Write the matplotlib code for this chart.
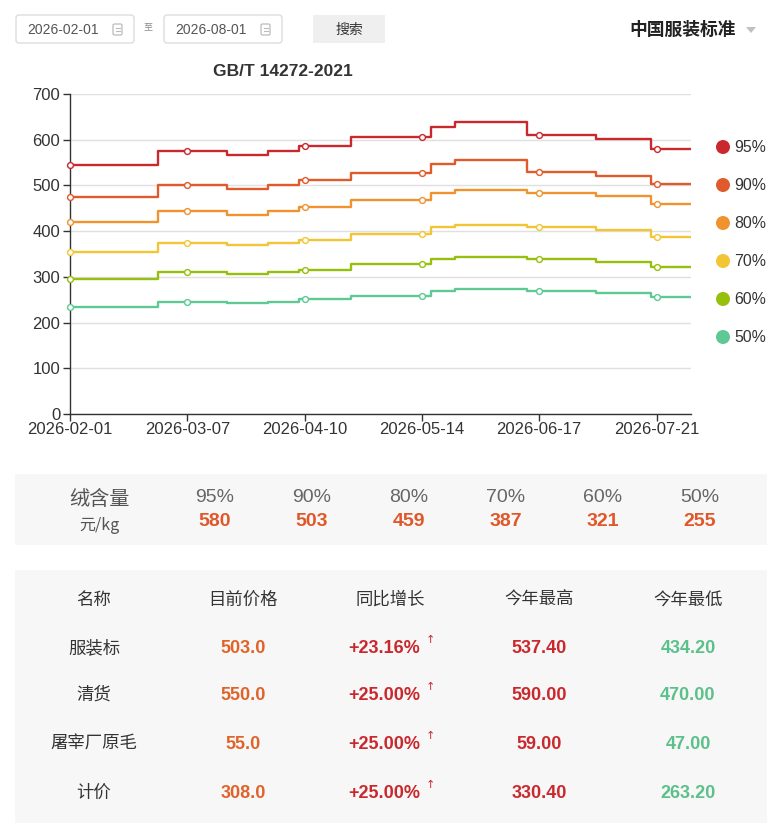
import numpy as np
import matplotlib.pyplot as plt
from matplotlib.patches import FancyBboxPatch, Rectangle, Circle, Polygon

plt.rcParams['font.family'] = ['Liberation Sans', 'Noto Sans CJK SC', 'DejaVu Sans']
CJK = ['Noto Sans CJK SC', 'Liberation Sans']

# 数据
start_date = '2026-02-01'
end_date = '2026-07-31'
change_dates = ['2026-02-01', '2026-02-27', '2026-03-19', '2026-03-31', '2026-04-09',
                '2026-04-24', '2026-05-17', '2026-05-24', '2026-06-14', '2026-07-04',
                '2026-07-20']
grades = ['95%', '90%', '80%', '70%', '60%', '50%']
levels_95 = [545, 576, 566, 576, 587, 607, 628, 638, 611, 601, 580]
levels_90 = [475, 502, 493, 502, 512, 528, 547, 555, 529, 520, 503]
levels_80 = [420, 443, 436, 443, 452, 468, 483, 491, 483, 476, 459]
levels_70 = [355, 374, 369, 374, 381, 394, 408, 414, 408, 402, 387]
levels_60 = [295, 311, 306, 311, 316, 328, 338, 344, 338, 333, 321]
levels_50 = [234, 246, 242, 246, 252, 259, 268, 273, 268, 264, 255]
colors = ['#c9282d', '#e05a2b', '#f0922e', '#f2c534', '#97bf0d', '#5ec994']

current_prices = ['580', '503', '459', '387', '321', '255']

col_names = ['名称', '目前价格', '同比增长', '今年最高', '今年最低']
row_names = ['服装标', '清货', '屠宰厂原毛', '计价']
prices = ['503.0', '550.0', '55.0', '308.0']
growth = ['+23.16%', '+25.00%', '+25.00%', '+25.00%']
year_high = ['537.40', '590.00', '59.00', '330.40']
year_low = ['434.20', '470.00', '47.00', '263.20']

W, H = 783, 830
fig = plt.figure(figsize=(W / 100, H / 100), dpi=100)
fig.patch.set_facecolor('white')

# 背景层，像素坐标
bg = fig.add_axes([0, 0, 1, 1], zorder=-1)
bg.set_xlim(0, W)
bg.set_ylim(H, 0)
bg.axis('off')

# 顶部日期框
for x0, txt in [(16, '2026-02-01'), (164, '2026-08-01')]:
    bg.add_patch(FancyBboxPatch((x0, 15), 118, 28, boxstyle='round,pad=0,rounding_size=3',
                                fc='white', ec='#dddddd', lw=1))
    bg.text(x0 + 11, 29.5, txt, fontsize=10, color='#555555', va='center', ha='left')
    ix = x0 + 97
    bg.add_patch(FancyBboxPatch((ix, 24), 9, 11, boxstyle='round,pad=0,rounding_size=1.5',
                                fc='none', ec='#bbbbbb', lw=0.9))
    bg.plot([ix + 2.5, ix + 6.5], [28.5, 28.5], color='#bbbbbb', lw=0.8)
    bg.plot([ix + 2.5, ix + 6.5], [31.5, 31.5], color='#bbbbbb', lw=0.8)
bg.text(148, 27, '至', fontsize=6.5, color='#888888', ha='center', va='center', family=CJK)
bg.add_patch(Rectangle((313, 15), 72, 28, fc='#efefef', ec='none'))
bg.text(349, 29.5, '搜索', fontsize=10, color='#333333', ha='center', va='center', family=CJK)
bg.text(736, 30, '中国服装标准', fontsize=12.8, color='#222222', ha='right', va='center',
        weight='bold', family=CJK)
bg.add_patch(Polygon([[746, 27], [756, 27], [751, 33]], closed=True, fc='#c0c0c0', ec='none'))

# 标题
bg.text(283, 72, 'GB/T 14272-2021', fontsize=12.5, weight='bold', color='#333333',
        ha='center', va='center')

# 折线图
ax = fig.add_axes([70 / W, 1 - 414 / H, 621 / W, 320 / H])
ax.set_facecolor('none')
days = np.arange(np.datetime64(start_date), np.datetime64(end_date) + 1)
cd = np.array(change_dates, dtype='datetime64[D]')
idx = np.searchsorted(cd, days, side='right') - 1
all_levels = [levels_95, levels_90, levels_80, levels_70, levels_60, levels_50]
for lv, c in zip(all_levels, colors):
    vals = np.array(lv)[idx]
    ax.plot(days, vals, drawstyle='steps-mid', color=c, lw=1.7, zorder=2)
    ax.plot(days[::34], vals[::34], 'o', ms=4.2, mfc='white', mec=c, mew=1.0,
            zorder=3, clip_on=False)

ax.set_xlim(days[0], days[-1])
ax.set_ylim(0, 700)
ax.set_yticks(np.arange(0, 701, 100))
tick_days = days[::34]
ax.set_xticks(tick_days)
ax.set_xticklabels([str(d) for d in tick_days])
ax.grid(axis='y', color='#e0e0e0', lw=1)
ax.set_axisbelow(True)
for s in ['top', 'right']:
    ax.spines[s].set_visible(False)
for s in ['left', 'bottom']:
    ax.spines[s].set_color('#333333')
    ax.spines[s].set_linewidth(1)
ax.tick_params(axis='both', colors='#333333', labelsize=12, length=5, width=1)
ax.tick_params(axis='y', pad=2)
ax.tick_params(axis='x', pad=1)

# 图例
for i, (g, c) in enumerate(zip(grades, colors)):
    y = 147 + 38 * i
    bg.add_patch(Circle((723, y), 7, fc=c, ec='none'))
    bg.text(734, y, g, fontsize=11.4, color='#333333', va='center', ha='left')

# 绒含量面板
bg.add_patch(Rectangle((15, 474), 752, 71, fc='#f7f7f7', ec='none'))
bg.text(99, 499, '绒含量', fontsize=14.5, color='#555555', ha='center', va='center', family=CJK)
bg.text(99, 525, '元/kg', fontsize=11.5, color='#555555', ha='center', va='center', family=CJK)
for i, (g, p) in enumerate(zip(grades, current_prices)):
    x = 215 + 97 * i
    bg.text(x, 497, g, fontsize=14, color='#666666', ha='center', va='center')
    bg.text(x, 521, p, fontsize=14, color='#e0572a', ha='center', va='center', weight='bold')

# 价格表
bg.add_patch(Rectangle((15, 570), 752, 253, fc='#f7f7f7', ec='none'))
col_x = [94, 243, 390, 539, 688]
for x, n in zip(col_x, col_names):
    bg.text(x, 600, n, fontsize=12.5, color='#333333', ha='center', va='center', family=CJK)
row_y = [648, 695, 744, 793]
for y, n, p, g, hi, lo in zip(row_y, row_names, prices, growth, year_high, year_low):
    bg.text(col_x[0], y, n, fontsize=12.5, color='#333333', ha='center', va='center', family=CJK)
    bg.text(col_x[1], y, p, fontsize=13, color='#e0642a', ha='center', va='center', weight='bold')
    bg.text(col_x[2] - 6, y, g, fontsize=13, color='#c9282d', ha='center', va='center', weight='bold')
    bg.text(430, y - 8, '↑', fontsize=8, color='#c9282d', ha='center', va='center',
            family=['DejaVu Sans'])
    bg.text(col_x[3], y, hi, fontsize=13, color='#c9282d', ha='center', va='center', weight='bold')
    bg.text(col_x[4], y, lo, fontsize=13, color='#5cc08a', ha='center', va='center', weight='bold')

fig.savefig('out.png', dpi=100)
